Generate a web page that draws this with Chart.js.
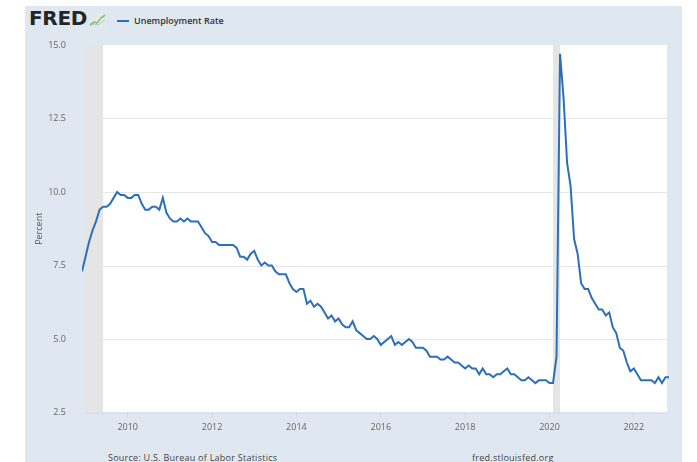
<!DOCTYPE html>
<html>
<head>
<meta charset="utf-8">
<script src="https://cdn.jsdelivr.net/npm/chart.js@4.4.1/dist/chart.umd.min.js"></script>
<style>
  body { margin: 0; background: #fff; font-family: "Open Sans", sans-serif; }
  #wrap { position: relative; width: 697px; height: 462px; overflow: hidden; }
  #bg { position: absolute; left: 25px; top: 6px; width: 657px; height: 456px; background: #dfe8f0; }
  #chart { position: absolute; left: 0; top: 0; }
  .logo { position: absolute; left: 29px; top: 6px; font: bold 20px "DejaVu Sans", sans-serif; color: #262626; letter-spacing: -0.3px; }
  .logo svg { position: absolute; left: 60px; top: 7px; }
  .legend { position: absolute; left: 117px; top: 14px; font: 600 9px "Open Sans", sans-serif; color: #333; }
  .legend i { display: inline-block; width: 12px; height: 2px; background: #2c6fbb; vertical-align: middle; margin-right: 5px; position: relative; top: -1px; }
  .foot { position: absolute; top: 451px; font: 9px "Open Sans", sans-serif; color: #444; letter-spacing: 0.25px; }
</style>
</head>
<body>
<div id="wrap">
  <div id="bg"></div>
  <div class="logo">FRED<svg width="17" height="14" viewBox="0 0 17 14"><rect width="17" height="14" fill="#e4e9ea"/><polyline points="1,12 5,9 8,10 12,5 16,2" fill="none" stroke="#8cc07a" stroke-width="1.6"/><polyline points="1,13 5,11 9,12 16,7" fill="none" stroke="#a9c7de" stroke-width="1"/></svg></div>
  <div class="legend"><i></i>Unemployment Rate</div>
  <div class="foot" style="left:108px">Source: U.S. Bureau of Labor Statistics</div>
  <div class="foot" style="left:472px">fred.stlouisfed.org</div>
  <canvas id="chart" width="697" height="462"></canvas>
</div>
<script>
// monthly unemployment rate, Dec 2008 .. Nov 2022
const START = { year: 2008, month: 12 };
const rate = [
  7.3,
  7.8, 8.3, 8.7, 9.0, 9.4, 9.5, 9.5, 9.6, 9.8, 10.0, 9.9, 9.9,
  9.8, 9.8, 9.9, 9.9, 9.6, 9.4, 9.4, 9.5, 9.5, 9.4, 9.8, 9.3,
  9.1, 9.0, 9.0, 9.1, 9.0, 9.1, 9.0, 9.0, 9.0, 8.8, 8.6, 8.5,
  8.3, 8.3, 8.2, 8.2, 8.2, 8.2, 8.2, 8.1, 7.8, 7.8, 7.7, 7.9,
  8.0, 7.7, 7.5, 7.6, 7.5, 7.5, 7.3, 7.2, 7.2, 7.2, 6.9, 6.7,
  6.6, 6.7, 6.7, 6.2, 6.3, 6.1, 6.2, 6.1, 5.9, 5.7, 5.8, 5.6,
  5.7, 5.5, 5.4, 5.4, 5.6, 5.3, 5.2, 5.1, 5.0, 5.0, 5.1, 5.0,
  4.8, 4.9, 5.0, 5.1, 4.8, 4.9, 4.8, 4.9, 5.0, 4.9, 4.7, 4.7,
  4.7, 4.6, 4.4, 4.4, 4.4, 4.3, 4.3, 4.4, 4.3, 4.2, 4.2, 4.1,
  4.0, 4.1, 4.0, 4.0, 3.8, 4.0, 3.8, 3.8, 3.7, 3.8, 3.8, 3.9,
  4.0, 3.8, 3.8, 3.7, 3.6, 3.6, 3.7, 3.6, 3.5, 3.6, 3.6, 3.6,
  3.5, 3.5, 4.4, 14.7, 13.2, 11.0, 10.2, 8.4, 7.9, 6.9, 6.7, 6.7,
  6.4, 6.2, 6.0, 6.0, 5.8, 5.9, 5.4, 5.2, 4.7, 4.6, 4.2, 3.9,
  4.0, 3.8, 3.6, 3.6, 3.6, 3.6, 3.5, 3.7, 3.5, 3.7, 3.7
];
const tickYears = [2010, 2012, 2014, 2016, 2018, 2020, 2022];
const yTicks = [2.5, 5.0, 7.5, 10.0, 12.5, 15.0];
const recessionStart = ["2007-12", "2020-02"];
const recessionEnd = ["2009-06", "2020-04"];

const monthIndex = (y, m) => (y - START.year) * 12 + (m - START.month);
const fromStr = s => monthIndex(+s.slice(0, 4), +s.slice(5, 7));
const points = rate.map((v, i) => ({ x: i, y: v }));

const plotDecor = {
  id: "plotDecor",
  beforeDraw(chart) {
    const { ctx, chartArea: a } = chart;
    ctx.save();
    ctx.fillStyle = "#fff";
    ctx.fillRect(a.left + 3, a.top, a.right - a.left - 5, a.bottom - a.top);
    ctx.restore();
  },
  beforeDatasetsDraw(chart) {
    const { ctx, chartArea: a, scales: { x, y } } = chart;
    const l = a.left + 3, r = a.right - 2;
    ctx.save();
    ctx.strokeStyle = "#e6e6e6";
    ctx.lineWidth = 1;
    yTicks.slice(1, -1).forEach(t => {
      const py = Math.round(y.getPixelForValue(t)) + 0.5;
      ctx.beginPath(); ctx.moveTo(l, py); ctx.lineTo(r, py); ctx.stroke();
    });
    ctx.fillStyle = "#e5e5e5";
    recessionStart.forEach((s, i) => {
      const x0 = Math.max(l, x.getPixelForValue(fromStr(s)));
      const x1 = x.getPixelForValue(fromStr(recessionEnd[i]));
      ctx.fillRect(x0, a.top, x1 - x0, a.bottom - a.top);
    });
    ctx.strokeStyle = "#ccd6eb";
    ctx.beginPath(); ctx.moveTo(l, a.bottom + 0.5); ctx.lineTo(r, a.bottom + 0.5); ctx.stroke();
    ctx.restore();
  }
};

new Chart(document.getElementById("chart"), {
  type: "line",
  data: {
    datasets: [{
      label: "Unemployment Rate",
      data: points,
      borderColor: "#2c6fbb",
      borderWidth: 2,
      pointRadius: 0,
      tension: 0,
      fill: false
    }]
  },
  options: {
    responsive: false,
    animation: false,
    layout: { padding: { top: 45, right: 28, left: 0, bottom: 0 } },
    plugins: { legend: { display: false }, tooltip: { enabled: false } },
    scales: {
      x: {
        type: "linear",
        min: 0,
        max: rate.length - 1,
        afterBuildTicks: s => { s.ticks = tickYears.map(yr => ({ value: monthIndex(yr, 1) })); },
        afterFit: s => { s.height = 49.5; },
        border: { display: false },
        grid: { drawOnChartArea: false, drawTicks: true, tickLength: 5, color: "#ccd6eb" },
        ticks: {
          autoSkip: false,
          maxRotation: 0,
          padding: 5,
          color: "#666",
          font: { family: "Open Sans", size: 9 },
          callback: v => START.year + Math.floor((v + START.month - 1) / 12)
        }
      },
      y: {
        min: 2.5,
        max: 15,
        afterBuildTicks: s => { s.ticks = yTicks.map(v => ({ value: v })); },
        afterFit: s => { s.width = 82; },
        border: { display: false },
        grid: { display: false },
        ticks: {
          padding: 8,
          color: "#666",
          font: { family: "Open Sans", size: 9 },
          callback: v => v.toFixed(1)
        },
        title: {
          display: true,
          text: "Percent",
          color: "#555",
          font: { family: "Open Sans", size: 9 },
          padding: { top: 34, bottom: 0 }
        }
      }
    }
  },
  plugins: [plotDecor]
});
</script>
</body>
</html>
